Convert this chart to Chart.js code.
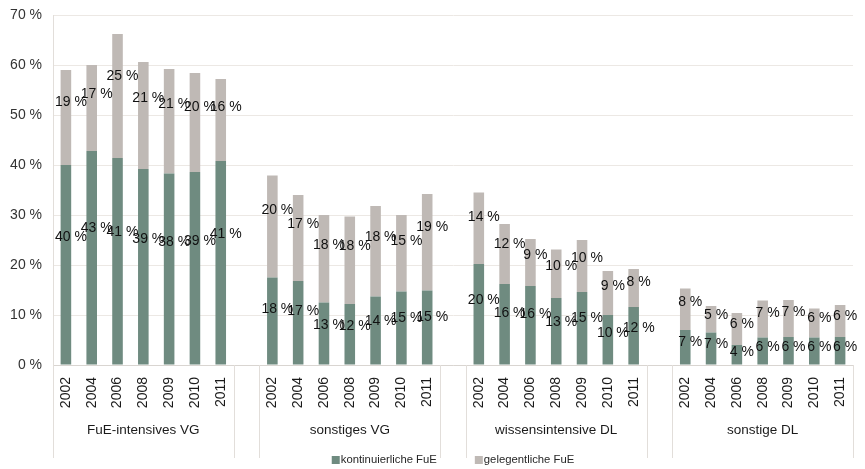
<!DOCTYPE html>
<html lang="de">
<head>
<meta charset="utf-8">
<title>Kontinuierliche und gelegentliche FuE</title>
<script src="https://cdn.jsdelivr.net/npm/chart.js@4.4.1/dist/chart.umd.min.js"></script>
<style>
  html, body { margin: 0; padding: 0; background: #ffffff; }
  #wrap { width: 865px; height: 469px; position: relative; }
</style>
</head>
<body>
<div id="wrap"><canvas id="chart" width="865" height="469"></canvas></div>
<script>
// Branchengruppen und Erhebungsjahre
const groups = ['FuE-intensives VG', 'sonstiges VG', 'wissensintensive DL', 'sonstige DL'];
const years = ['2002', '2004', '2006', '2008', '2009', '2010', '2011'];
const yTicks = [0, 10, 20, 30, 40, 50, 60, 70];

// Anteil der Unternehmen mit kontinuierlicher FuE (in %)
const kontFuEintensivVG = [40.0, 42.8, 41.4, 39.2, 38.3, 38.6, 40.8];
const kontSonstigesVG   = [17.5, 16.8, 12.5, 12.2, 13.7, 14.7, 14.9];
const kontWissensDL     = [20.2, 16.2, 15.8, 13.4, 14.6, 10.0, 11.6];
const kontSonstigeDL    = [7.0, 6.5, 4.0, 5.5, 5.6, 5.5, 5.6];

// Anteil der Unternehmen mit gelegentlicher FuE (in %)
const gelFuEintensivVG = [19.0, 17.2, 24.8, 21.4, 20.9, 19.8, 16.4];
const gelSonstigesVG   = [20.4, 17.2, 17.5, 17.5, 18.1, 15.3, 19.3];
const gelWissensDL     = [14.3, 12.0, 9.4, 9.7, 10.4, 8.8, 7.6];
const gelSonstigeDL    = [8.3, 5.3, 6.4, 7.4, 7.4, 5.8, 6.4];

const seriesNames = ['kontinuierliche FuE', 'gelegentliche FuE'];

// Gruppen hintereinander, jeweils durch eine leere Kategorie getrennt
function joinGroups(parts, gap) {
  const out = [];
  parts.forEach((p, i) => {
    if (i > 0) out.push(gap);
    p.forEach(v => out.push(v));
  });
  return out;
}
const labels = joinGroups(groups.map(() => years), '');
const kontinuierlich = joinGroups([kontFuEintensivVG, kontSonstigesVG, kontWissensDL, kontSonstigeDL], null);
const gelegentlich = joinGroups([gelFuEintensivVG, gelSonstigesVG, gelWissensDL, gelSonstigeDL], null);

const FONT = '"Liberation Sans", Arial, sans-serif';
const COL_KONT = '#6f8b80';
const COL_GEL = '#bfb9b5';
const COL_GRID = '#ece8e4';
const COL_SEP = '#e2deda';

// Wertbeschriftungen in den Segmenten
const valueLabels = {
  id: 'valueLabels',
  afterDatasetsDraw(chart) {
    const ctx = chart.ctx;
    ctx.save();
    ctx.font = '14px ' + FONT;
    ctx.fillStyle = '#111111';
    ctx.textAlign = 'center';
    ctx.textBaseline = 'middle';
    chart.data.datasets.forEach((ds, di) => {
      const meta = chart.getDatasetMeta(di);
      const frac = di === 0 ? 0.64 : 0.66;
      meta.data.forEach((bar, i) => {
        const v = ds.data[i];
        if (v === null || v === undefined) return;
        const y = bar.base - frac * (bar.base - bar.y);
        ctx.fillText(Math.round(v) + ' %', bar.x + 5, y);
      });
    });
    ctx.restore();
  }
};

// Gruppentrenner, Gruppennamen und Legende unterhalb der Achse
const groupAxis = {
  id: 'groupAxis',
  afterDraw(chart) {
    const ctx = chart.ctx;
    const xs = chart.scales.x;
    const area = chart.chartArea;
    const slot = xs.getPixelForValue(1) - xs.getPixelForValue(0);
    const sepBottom = area.bottom + 93;
    ctx.save();
    ctx.strokeStyle = COL_SEP;
    ctx.lineWidth = 1;
    const edges = [];
    groups.forEach((g, gi) => {
      const first = gi * (years.length + 1);
      const last = first + years.length - 1;
      edges.push(xs.getPixelForValue(first) - slot / 2);
      edges.push(xs.getPixelForValue(last) + slot / 2);
    });
    edges.forEach(x => {
      const px = Math.round(x) + 0.5;
      ctx.beginPath();
      ctx.moveTo(px, area.bottom);
      ctx.lineTo(px, sepBottom);
      ctx.stroke();
    });
    ctx.font = '13.5px ' + FONT;
    ctx.fillStyle = '#1a1a1a';
    ctx.textAlign = 'center';
    ctx.textBaseline = 'middle';
    groups.forEach((g, gi) => {
      const first = gi * (years.length + 1);
      const last = first + years.length - 1;
      const cx = (xs.getPixelForValue(first) + xs.getPixelForValue(last)) / 2;
      ctx.fillText(g, cx, area.bottom + 65);
    });

    // Legende
    ctx.font = '11.3px ' + FONT;
    ctx.textAlign = 'left';
    const box = 8, gapBox = 1, gapItem = 38;
    const colors = chart.data.datasets.map(d => d.backgroundColor);
    const widths = seriesNames.map(n => box + gapBox + ctx.measureText(n).width);
    const total = widths.reduce((a, b) => a + b, 0) + gapItem * (widths.length - 1);
    let x = (area.left + area.right) / 2 - total / 2;
    const ly = 460;
    seriesNames.forEach((n, i) => {
      ctx.fillStyle = colors[i];
      ctx.fillRect(x, ly - box / 2, box, box);
      ctx.fillStyle = '#262626';
      ctx.fillText(n, x + box + gapBox, ly);
      x += widths[i] + gapItem;
    });
    ctx.restore();
  }
};

new Chart(document.getElementById('chart'), {
  type: 'bar',
  data: {
    labels: labels,
    datasets: [
      { label: seriesNames[0], data: kontinuierlich, backgroundColor: COL_KONT },
      { label: seriesNames[1], data: gelegentlich, backgroundColor: COL_GEL }
    ]
  },
  options: {
    responsive: false,
    animation: false,
    devicePixelRatio: 1,
    layout: { padding: { top: 15, right: 12, left: 0, bottom: 0 } },
    datasets: { bar: { barPercentage: 0.41, categoryPercentage: 1.0 } },
    plugins: {
      legend: { display: false },
      tooltip: { enabled: false }
    },
    scales: {
      x: {
        stacked: true,
        grid: { display: false, drawTicks: false },
        border: { display: true, color: '#d9d5d1', width: 1 },
        ticks: {
          autoSkip: false,
          minRotation: 90,
          maxRotation: 90,
          padding: 12,
          color: '#1a1a1a',
          font: { family: FONT, size: 14 }
        },
        afterFit(scale) {
          scale.height = 104;
          scale.paddingLeft = 0;
          scale.paddingRight = 0;
        }
      },
      y: {
        stacked: true,
        min: 0,
        max: 70,
        afterBuildTicks(scale) { scale.ticks = yTicks.map(v => ({ value: v })); },
        grid: { color: COL_GRID, drawTicks: false, lineWidth: 1 },
        border: { display: true, color: '#e2deda', width: 1 },
        ticks: {
          padding: 11,
          color: '#333333',
          font: { family: FONT, size: 14 },
          callback: v => v + ' %'
        },
        afterFit(scale) {
          scale.width = 53;
          scale.paddingTop = 0;
          scale.paddingBottom = 0;
        }
      }
    }
  },
  plugins: [valueLabels, groupAxis]
});
</script>
</body>
</html>
